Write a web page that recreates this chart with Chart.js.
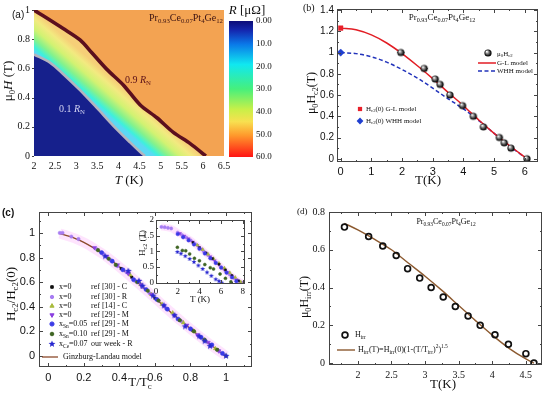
<!DOCTYPE html>
<html>
<head>
<meta charset="utf-8">
<script src="https://cdn.jsdelivr.net/npm/chart.js@4.4.1/dist/chart.umd.min.js"></script>
<style>
html, body { margin: 0; padding: 0; background: #fff; }
#page { position: relative; width: 550px; height: 394px; overflow: hidden; }
canvas { position: absolute; }
</style>
</head>
<body>
<div id="page">
  <canvas id="mapChart" width="240" height="197" style="left:0;top:0"></canvas>
  <canvas id="barChart" width="50" height="170" style="left:226px;top:0"></canvas>
  <canvas id="hc2Chart" width="275" height="197" style="left:275px;top:0"></canvas>
  <canvas id="normChart" width="275" height="197" style="left:0;top:197px"></canvas>
  <canvas id="insetChart" width="130" height="95" style="left:126px;top:212px"></canvas>
  <canvas id="irrChart" width="275" height="197" style="left:275px;top:197px"></canvas>
</div>
<script>
// ---- (a) R(T,H) map: the two contour lines
const mapTempHigh = [2.0, 2.69, 3.09, 3.37, 3.72, 4.12, 4.51, 4.91, 5.30, 5.70, 6.07];
const mapFieldHigh = [1.0, 0.873, 0.795, 0.707, 0.595, 0.485, 0.351, 0.262, 0.162, 0.085, 0.0];
const mapTempLow = [2.0, 2.38, 2.69, 3.09, 3.49, 3.88, 4.27, 4.51, 4.63];
const mapFieldLow = [0.695, 0.64, 0.562, 0.451, 0.329, 0.207, 0.095, 0.029, 0.0];
const mapXTicks = [2, 2.5, 3, 3.5, 4, 4.5, 5, 5.5, 6, 6.5];
const mapYTicks = [0, 0.2, 0.4, 0.6, 0.8, 1];
const barTicks = [0, 10, 20, 30, 40, 50, 60];
const barTickLabels = ['0.00', '10.0', '20.0', '30.0', '40.0', '50.0', '60.0'];

// ---- (b) upper critical field
const hc2Temp = [1.96, 2.72, 3.08, 3.24, 3.56, 3.97, 4.32, 4.65, 5.17, 5.33, 5.55, 6.07];
const hc2Field = [1.0, 0.85, 0.75, 0.70, 0.60, 0.50, 0.40, 0.30, 0.20, 0.15, 0.10, 0.0];
const hc2TempErr = [0.12, 0.12, 0.1, 0.1, 0.1, 0.1, 0.1, 0.1, 0.1, 0.1, 0.1, 0.1];
const modelTemp = [0, 0.5, 1, 1.5, 2, 2.5, 3, 3.5, 4, 4.5, 5, 5.5, 6.07];
const glField = [1.23, 1.215, 1.166, 1.09, 0.99, 0.876, 0.755, 0.625, 0.50, 0.365, 0.24, 0.125, 0];
const whhField = [1.0, 0.99, 0.96, 0.91, 0.84, 0.76, 0.665, 0.565, 0.47, 0.36, 0.24, 0.12, 0];
const zeroTemp = [0];
const glZero = [1.23];
const whhZero = [1.0];
const hc2XTicks = [0, 1, 2, 3, 4, 5, 6];
const hc2YTicks = [0, 0.2, 0.4, 0.6, 0.8, 1, 1.2, 1.4];

// ---- (c) normalised Hc2, main panel
const normGlT = [0.065, 0.1, 0.15, 0.2, 0.25, 0.3, 0.35, 0.4, 0.45, 0.5, 0.55, 0.6, 0.65, 0.7, 0.75, 0.8, 0.85, 0.9, 0.95, 1.0];
const normGlH = [0.995, 0.98, 0.956, 0.923, 0.882, 0.835, 0.782, 0.724, 0.663, 0.6, 0.536, 0.471, 0.406, 0.342, 0.28, 0.22, 0.161, 0.105, 0.051, 0];
const nBlackT = [0.41, 0.47, 0.53, 0.60, 0.67, 0.74, 0.81, 0.88, 0.95];
const nBlackH = [0.71, 0.64, 0.56, 0.47, 0.38, 0.29, 0.21, 0.13, 0.05];
const nLavT = [0.065, 0.08, 0.13, 0.17, 0.27, 0.31, 0.35, 0.39, 0.44, 0.49, 0.53, 0.57, 0.62, 0.66, 0.71, 0.75, 0.80, 0.84, 0.88, 0.92, 0.96, 1.0];
const nLavH = [1.0, 1.0, 0.97, 0.95, 0.87, 0.83, 0.78, 0.73, 0.68, 0.61, 0.56, 0.51, 0.45, 0.39, 0.33, 0.28, 0.22, 0.17, 0.13, 0.08, 0.04, 0.0];
const nOliveT = [0.46, 0.52, 0.58, 0.64, 0.70, 0.76, 0.82, 0.88, 0.94, 1.0];
const nOliveH = [0.66, 0.58, 0.50, 0.42, 0.35, 0.27, 0.20, 0.13, 0.06, 0.0];
const nPurpleT = [0.26, 0.33, 0.39, 0.45, 0.52, 0.58, 0.65, 0.71, 0.78, 0.84, 0.90, 0.96];
const nPurpleH = [0.88, 0.81, 0.74, 0.67, 0.58, 0.50, 0.41, 0.33, 0.25, 0.17, 0.11, 0.04];
const nSn05T = [0.30, 0.36, 0.42, 0.48, 0.55, 0.61, 0.67, 0.73, 0.80, 0.86, 0.92, 0.98];
const nSn05H = [0.84, 0.77, 0.70, 0.62, 0.54, 0.46, 0.38, 0.30, 0.22, 0.15, 0.09, 0.02];
const nSn10T = [0.28, 0.34, 0.38, 0.50, 0.56, 0.62, 0.74, 0.82, 0.88, 0.95];
const nSn10H = [0.86, 0.79, 0.74, 0.60, 0.53, 0.45, 0.29, 0.20, 0.13, 0.05];
const nCeT = [0.32, 0.45, 0.51, 0.53, 0.59, 0.65, 0.71, 0.77, 0.85, 0.88, 0.91, 1.0];
const nCeH = [0.81, 0.69, 0.61, 0.57, 0.49, 0.41, 0.33, 0.24, 0.16, 0.12, 0.08, 0.0];
const normXTicks = [0, 0.2, 0.4, 0.6, 0.8, 1];
const normYTicks = [0, 0.2, 0.4, 0.6, 0.8, 1];

// ---- (c) inset, raw Hc2(T)
const iLavT = [0.5, 0.8, 1.1, 1.4, 2.0, 2.4, 2.8, 3.2, 3.6, 4.0, 4.4, 4.8, 5.2, 5.6, 6.0, 6.4, 6.8, 7.2, 7.6, 7.9];
const iLavH = [1.78, 1.77, 1.75, 1.73, 1.60, 1.52, 1.44, 1.35, 1.24, 1.12, 1.00, 0.88, 0.76, 0.63, 0.50, 0.38, 0.26, 0.15, 0.06, 0.0];
const iPurpleT = [2.2, 2.6, 3.0, 3.4, 3.8, 4.2, 4.6, 5.0, 5.4, 5.8, 6.2, 6.6, 7.0, 7.4, 7.8];
const iPurpleH = [1.57, 1.49, 1.40, 1.30, 1.19, 1.07, 0.95, 0.83, 0.70, 0.58, 0.45, 0.33, 0.21, 0.10, 0.01];
const iBlackT = [3.4, 4.0, 4.6, 5.2, 5.8, 6.4, 7.0, 7.6];
const iBlackH = [1.28, 1.12, 0.95, 0.77, 0.59, 0.41, 0.23, 0.06];
const iOliveT = [3.8, 4.3, 4.8, 5.3, 5.8, 6.3, 6.8, 7.3, 7.8];
const iOliveH = [1.20, 1.06, 0.91, 0.77, 0.62, 0.47, 0.32, 0.17, 0.03];
const iSn05T = [2.0, 2.5, 3.0, 3.5, 4.0, 4.5, 5.0, 5.5, 6.0, 6.5, 7.0, 7.4];
const iSn05H = [1.55, 1.45, 1.35, 1.22, 1.08, 0.93, 0.78, 0.63, 0.48, 0.32, 0.17, 0.05];
const iSn10T = [1.97, 2.43, 2.74, 3.1, 3.54, 4.0, 4.5, 5.0, 5.3, 5.9, 6.4, 6.9];
const iSn10H = [1.13, 1.03, 1.02, 0.92, 0.78, 0.70, 0.58, 0.48, 0.44, 0.28, 0.14, 0.03];
const iCeT = [1.97, 2.3, 2.7, 3.1, 3.5, 3.9, 4.3, 4.7, 5.1, 5.5, 5.8, 6.05];
const iCeH = [0.98, 0.93, 0.85, 0.76, 0.66, 0.55, 0.44, 0.33, 0.22, 0.11, 0.05, 0.0];
const insetXTicks = [0, 2, 4, 6, 8];
const insetYTicks = [0, 0.5, 1, 1.5, 2];

// ---- (d) irreversibility field
const irrTemp = [1.80, 2.16, 2.37, 2.57, 2.74, 2.92, 3.09, 3.27, 3.45, 3.64, 3.82, 4.04, 4.24, 4.50, 4.62];
const irrField = [0.72, 0.67, 0.62, 0.57, 0.50, 0.45, 0.40, 0.35, 0.30, 0.25, 0.20, 0.15, 0.10, 0.05, 0.0];
const irrFitTemp = [1.8, 2.0, 2.25, 2.5, 2.75, 3.0, 3.25, 3.5, 3.75, 4.0, 4.25, 4.5, 4.62];
const irrFitField = [0.74, 0.705, 0.655, 0.60, 0.53, 0.46, 0.385, 0.305, 0.225, 0.148, 0.078, 0.022, 0];
const irrXTicks = [2, 2.5, 3, 3.5, 4, 4.5];
const irrYTicks = [0, 0.2, 0.4, 0.6, 0.8];

const SERIF = '"Liberation Serif", "DejaVu Serif", serif';
const SANS = '"Liberation Sans", Arial, sans-serif';

const pts = (xs, ys) => xs.map((x, i) => ({ x: x, y: ys[i] }));

function axis(min, max, ticks, o) {
    return {
        type: 'linear',
        min: min,
        max: max,
        position: o.position,
        reverse: !!o.reverse,
        grid: { display: false, drawTicks: false },
        border: { display: false },
        ticks: {
            color: '#111',
            font: { family: o.family || SERIF, size: o.size || 10 },
            padding: o.pad == null ? 3 : o.pad,
            autoSkip: false,
            maxRotation: 0,
            callback: o.fmt || (v => String(v))
        },
        afterBuildTicks: s => { s.ticks = ticks.map(v => ({ value: v })); },
        afterFit: s => {
            if (o.w != null) s.width = o.w;
            if (o.h != null) s.height = o.h;
        }
    };
}

// text with _{sub}, ^{sup} and *italic* parts
function drawRich(ctx, str, x, y, o) {
    const size = o.size || 10;
    const fam = o.family || SERIF;
    const parts = [];
    const re = /_\{([^}]*)\}|\^\{([^}]*)\}|\*([^*]*)\*|([^_^*]+)/g;
    let m;
    while ((m = re.exec(str))) {
        if (m[1] !== undefined) parts.push({ t: m[1], mode: 'sub' });
        else if (m[2] !== undefined) parts.push({ t: m[2], mode: 'sup' });
        else if (m[3] !== undefined) parts.push({ t: m[3], italic: true });
        else parts.push({ t: m[4] });
    }
    const fontOf = p => (p.italic ? 'italic ' : '') + (o.bold ? 'bold ' : '') + (p.mode ? size * 0.68 : size) + 'px ' + fam;
    let w = 0;
    parts.forEach(p => { ctx.font = fontOf(p); p.w = ctx.measureText(p.t).width; w += p.w; });
    ctx.save();
    ctx.translate(x, y);
    if (o.rot) ctx.rotate(o.rot);
    let cx = o.align === 'center' ? -w / 2 : o.align === 'right' ? -w : 0;
    ctx.fillStyle = o.color || '#111';
    ctx.textBaseline = 'middle';
    ctx.textAlign = 'left';
    parts.forEach(p => {
        ctx.font = fontOf(p);
        const dy = p.mode === 'sub' ? size * 0.3 : p.mode === 'sup' ? -size * 0.38 : 0;
        ctx.fillText(p.t, cx, dy);
        cx += p.w;
    });
    ctx.restore();
}

function notesPlugin(items, extra) {
    return {
        id: 'notes',
        afterDraw(chart) {
            items.forEach(it => drawRich(chart.ctx, it.s, it.x, it.y, it));
            if (extra) extra(chart.ctx, chart);
        }
    };
}

// box with inward major/minor ticks on every side
function framePlugin(minorX, minorY) {
    return {
        id: 'frame',
        afterDraw(chart) {
            const ctx = chart.ctx;
            const a = chart.chartArea;
            const sx = chart.scales.x, sy = chart.scales.y;
            ctx.save();
            ctx.strokeStyle = '#444';
            ctx.lineWidth = 1;
            ctx.strokeRect(Math.round(a.left) + 0.5, Math.round(a.top) + 0.5, Math.round(a.width) - 1, Math.round(a.height) - 1);
            const marks = (scale, n) => {
                const vals = scale.ticks.map(t => t.value);
                const out = [];
                const step = vals[1] - vals[0];
                for (let v = vals[0] - step; v <= scale.max + 1e-9; v += step / n) {
                    if (v < scale.min - 1e-9) continue;
                    const major = vals.some(t => Math.abs(t - v) < 1e-6);
                    out.push({ p: Math.round(scale.getPixelForValue(v)) + 0.5, len: major ? 4 : 2 });
                }
                return out;
            };
            ctx.beginPath();
            marks(sx, minorX).forEach(k => {
                ctx.moveTo(k.p, a.bottom); ctx.lineTo(k.p, a.bottom - k.len);
                ctx.moveTo(k.p, a.top); ctx.lineTo(k.p, a.top + k.len);
            });
            marks(sy, minorY).forEach(k => {
                ctx.moveTo(a.left, k.p); ctx.lineTo(a.left + k.len, k.p);
                ctx.moveTo(a.right, k.p); ctx.lineTo(a.right - k.len, k.p);
            });
            ctx.stroke();
            ctx.restore();
        }
    };
}

function makeBall(r) {
    const c = document.createElement('canvas');
    const d = Math.ceil(2 * r + 2);
    c.width = c.height = d;
    const g = c.getContext('2d');
    const m = d / 2;
    const grad = g.createRadialGradient(m - r * 0.35, m - r * 0.4, r * 0.1, m, m, r);
    grad.addColorStop(0, '#ffffff');
    grad.addColorStop(0.3, '#9a9a9a');
    grad.addColorStop(0.8, '#151515');
    grad.addColorStop(1, '#000');
    g.fillStyle = grad;
    g.beginPath();
    g.arc(m, m, r, 0, Math.PI * 2);
    g.fill();
    return c;
}

function makeStar(r, color) {
    const c = document.createElement('canvas');
    const d = Math.ceil(2 * r + 2);
    c.width = c.height = d;
    const g = c.getContext('2d');
    const m = d / 2;
    g.fillStyle = color;
    g.beginPath();
    for (let i = 0; i < 10; i++) {
        const rr = i % 2 ? r * 0.45 : r;
        const ang = -Math.PI / 2 + i * Math.PI / 5;
        g.lineTo(m + rr * Math.cos(ang), m + rr * Math.sin(ang));
    }
    g.closePath();
    g.fill();
    return c;
}

const ballImg = makeBall(3.6);
const starImg = makeStar(3.6, '#2828d0');
const starSmall = makeStar(2.6, '#2828d0');

const C_BLACK = '#111111', C_LAV = '#a77cf2', C_OLIVE = '#a9bb3c', C_PURPLE = '#8a3fe0';
const C_SN05 = '#3a3ae6', C_SN10 = '#3f6523';

function lineDs(xs, ys, color, width, extra) {
    return Object.assign({
        data: pts(xs, ys), borderColor: color, borderWidth: width, pointRadius: 0,
        fill: false, showLine: true, tension: 0, cubicInterpolationMode: 'monotone'
    }, extra || {});
}

function pointDs(xs, ys, color, style, radius, extra) {
    return Object.assign({
        data: pts(xs, ys), showLine: false, pointStyle: style, pointRadius: radius,
        backgroundColor: color, borderColor: color, borderWidth: 0.5
    }, extra || {});
}

const baseOptions = {
    responsive: false,
    animation: false,
    events: [],
    plugins: { legend: { display: false }, tooltip: { enabled: false } }
};

function colorbarGradient(ctx, top, bottom) {
    const g = ctx.createLinearGradient(0, top, 0, bottom);
    g.addColorStop(0, '#0c0c78');
    g.addColorStop(0.07, '#1428b0');
    g.addColorStop(0.17, '#0a78e8');
    g.addColorStop(0.32, '#10e8f0');
    g.addColorStop(0.5, '#46f07c');
    g.addColorStop(0.65, '#c8f048');
    g.addColorStop(0.74, '#f8e050');
    g.addColorStop(0.84, '#ff9a2c');
    g.addColorStop(1, '#ff1414');
    return g;
}

// ---------------- (a) map ----------------
const mapBackground = {
    id: 'mapBackground',
    beforeDatasetsDraw(chart) {
        const ctx = chart.ctx, a = chart.chartArea;
        const sx = chart.scales.x, sy = chart.scales.y;
        const nx = 0.658, ny = -0.753;
        const x0 = sx.getPixelForValue(3.26), y0 = sy.getPixelForValue(0.4);
        const d = (sx.getPixelForValue(4.37) - x0) * nx;
        const g = ctx.createLinearGradient(x0, y0, x0 + d * nx, y0 + d * ny);
        g.addColorStop(0, '#5cd8f4');
        g.addColorStop(0.1, '#3ef0dc');
        g.addColorStop(0.3, '#84f28c');
        g.addColorStop(0.55, '#d2f272');
        g.addColorStop(0.8, '#f2ea80');
        g.addColorStop(1, '#f6cf78');
        ctx.save();
        ctx.fillStyle = g;
        ctx.fillRect(a.left, a.top, a.width, a.height);
        ctx.restore();
    }
};

new Chart(document.getElementById('mapChart'), {
    type: 'line',
    data: {
        datasets: [
            lineDs(mapTempHigh, mapFieldHigh, '#5c0f1e', 3.6, { order: 0, tension: 0.3, cubicInterpolationMode: 'default' }),
            lineDs(mapTempLow, mapFieldLow, '#b4b4be', 2.6, { order: 1, tension: 0.3, cubicInterpolationMode: 'default' }),
            lineDs(mapTempHigh.concat([mapXTicks[mapXTicks.length - 1]]), mapFieldHigh.concat([0]), 'rgba(0,0,0,0)', 0,
                { order: 2, fill: 'end', backgroundColor: '#f3a352', tension: 0.3, cubicInterpolationMode: 'default' }),
            lineDs(mapTempLow, mapFieldLow, 'rgba(0,0,0,0)', 0,
                { order: 3, fill: 'origin', backgroundColor: '#16208c', tension: 0.3, cubicInterpolationMode: 'default' })
        ]
    },
    options: Object.assign({}, baseOptions, {
        layout: { padding: { left: 0, top: 6, right: 16, bottom: 0 } },
        scales: {
            x: axis(2, 6.5, mapXTicks, { h: 41, size: 10, pad: 4 }),
            y: axis(0, 1, mapYTicks, { w: 34, size: 10, pad: 4 })
        }
    }),
    plugins: [mapBackground, notesPlugin([
        { s: '(a)', x: 12, y: 15, size: 10, family: SANS },
        { s: 'μ_{0}*H* (T)', x: 9, y: 81, size: 13, rot: -Math.PI / 2, align: 'center' },
        { s: '*T* (K)', x: 129, y: 181, size: 13, align: 'center' },
        { s: 'Pr_{0.93}Ce_{0.07}Pt_{4}Ge_{12}', x: 186, y: 18, size: 10, align: 'center', color: '#3b1212' },
        { s: '0.9 *R*_{N}', x: 125, y: 80, size: 10, color: '#5a1018' },
        { s: '0.1 *R*_{N}', x: 59, y: 109, size: 10, color: '#d4d4f2' }
    ], (ctx, chart) => {
        const a = chart.chartArea, sy = chart.scales.y;
        ctx.save();
        ctx.strokeStyle = '#444';
        ctx.beginPath();
        mapYTicks.forEach(v => {
            const p = Math.round(sy.getPixelForValue(v)) + 0.5;
            ctx.moveTo(a.left - 2, p); ctx.lineTo(a.left, p);
        });
        ctx.stroke();
        ctx.restore();
    })]
});

new Chart(document.getElementById('barChart'), {
    type: 'bar',
    data: {
        labels: ['R'],
        datasets: [{
            data: [[barTicks[0], barTicks[barTicks.length - 1]]],
            barPercentage: 1,
            categoryPercentage: 1,
            borderWidth: 0,
            backgroundColor: c => {
                const a = c.chart.chartArea;
                if (!a) return '#888';
                return colorbarGradient(c.chart.ctx, a.top, a.bottom);
            }
        }]
    },
    options: Object.assign({}, baseOptions, {
        layout: { padding: { left: 3, top: 21, right: 0, bottom: 13 } },
        scales: {
            x: { display: false },
            y: axis(0, 60, barTicks, {
                position: 'right', reverse: true, w: 23, size: 9, pad: 3,
                fmt: (v, i) => barTickLabels[i]
            })
        }
    }),
    plugins: [notesPlugin([
        { s: '*R* [μΩ]', x: 21, y: 11, size: 13, align: 'center' }
    ])]
});

// ---------------- (b) Hc2(T) ----------------
const errorBars = {
    id: 'errorBars',
    beforeDatasetsDraw(chart) {
        const ctx = chart.ctx, sx = chart.scales.x, sy = chart.scales.y;
        ctx.save();
        ctx.strokeStyle = '#333';
        ctx.lineWidth = 0.8;
        ctx.beginPath();
        hc2Temp.forEach((t, i) => {
            const y = sy.getPixelForValue(hc2Field[i]);
            ctx.moveTo(sx.getPixelForValue(t - hc2TempErr[i]), y);
            ctx.lineTo(sx.getPixelForValue(t + hc2TempErr[i]), y);
        });
        ctx.stroke();
        ctx.restore();
    }
};

new Chart(document.getElementById('hc2Chart'), {
    type: 'line',
    data: {
        datasets: [
            pointDs(zeroTemp, glZero, '#e8202a', 'rect', 3.3, { order: 0 }),
            pointDs(zeroTemp, whhZero, '#1f3fd0', 'rectRot', 3.6, { order: 0 }),
            pointDs(hc2Temp, hc2Field, '#000', ballImg, 3.6, { order: 1 }),
            lineDs(modelTemp, glField, '#e21d24', 1.5, { order: 2 }),
            lineDs(modelTemp, whhField, '#2233bb', 1.5, { order: 3, borderDash: [4, 2.5] })
        ]
    },
    options: Object.assign({}, baseOptions, {
        layout: { padding: { left: 0, top: 6, right: 12, bottom: 0 } },
        scales: {
            x: axis(-0.12, 6.43, hc2XTicks, { h: 35, size: 11, family: SANS, pad: 3 }),
            y: axis(-0.03, 1.41, hc2YTicks, { w: 62, size: 10, family: SANS, pad: 3 })
        }
    }),
    plugins: [errorBars, framePlugin(2, 2), notesPlugin([
        { s: '(b)', x: 28, y: 8, size: 10 },
        { s: 'μ_{0}H_{c2}(T)', x: 37, y: 93, size: 12, rot: -Math.PI / 2, align: 'center' },
        { s: 'T(K)', x: 153, y: 181, size: 13, align: 'center' },
        { s: 'Pr_{0.93}Ce_{0.07}Pt_{4}Ge_{12}', x: 167, y: 18, size: 9, align: 'center' },
        { s: 'μ_{0}H_{c2}', x: 222, y: 54, size: 7 },
        { s: 'G-L model', x: 222, y: 63, size: 7 },
        { s: 'WHH model', x: 222, y: 71, size: 7 },
        { s: 'H_{c2}(0) G-L model', x: 91, y: 109, size: 7 },
        { s: 'H_{c2}(0) WHH model', x: 91, y: 121, size: 7 }
    ], (ctx) => {
        ctx.save();
        ctx.drawImage(ballImg, 213 - ballImg.width / 2, 53 - ballImg.height / 2);
        ctx.lineWidth = 1.5;
        ctx.strokeStyle = '#e21d24';
        ctx.beginPath(); ctx.moveTo(203, 63); ctx.lineTo(221, 63); ctx.stroke();
        ctx.strokeStyle = '#2233bb';
        ctx.setLineDash([4, 2.5]);
        ctx.beginPath(); ctx.moveTo(203, 71); ctx.lineTo(221, 71); ctx.stroke();
        ctx.setLineDash([]);
        ctx.fillStyle = '#e8202a';
        Chart.helpers.drawPoint(ctx, { pointStyle: 'rect', radius: 3, borderWidth: 0 }, 85, 109);
        ctx.fillStyle = '#1f3fd0';
        Chart.helpers.drawPoint(ctx, { pointStyle: 'rectRot', radius: 3.4, borderWidth: 0 }, 85, 121);
        ctx.restore();
    })]
});

// ---------------- (c) normalised Hc2 ----------------
new Chart(document.getElementById('normChart'), {
    type: 'line',
    data: {
        datasets: [
            pointDs(nCeT, nCeH, '#2828d0', starImg, 3.6, { order: 0 }),
            pointDs(nSn10T, nSn10H, C_SN10, 'circle', 1.8, { order: 1 }),
            pointDs(nSn05T, nSn05H, C_SN05, 'circle', 2.1, { order: 2 }),
            pointDs(nPurpleT, nPurpleH, C_PURPLE, 'triangle', 2.4, { order: 3, rotation: 180 }),
            pointDs(nOliveT, nOliveH, C_OLIVE, 'triangle', 2.4, { order: 4 }),
            pointDs(nLavT, nLavH, C_LAV, 'circle', 1.7, { order: 5 }),
            pointDs(nBlackT, nBlackH, C_BLACK, 'rect', 1.7, { order: 6 }),
            lineDs(normGlT, normGlH, '#8b4a2a', 1.3, { order: 7 }),
            lineDs(normGlT, normGlH, 'rgba(252,196,250,0.45)', 10, { order: 8 })
        ]
    },
    options: Object.assign({}, baseOptions, {
        layout: { padding: { left: 0, top: 15, right: 23, bottom: 0 } },
        scales: {
            x: axis(-0.052, 1.146, normXTicks, { h: 27, size: 11, family: SANS, pad: 4 }),
            y: axis(-0.09, 1.17, normYTicks, { w: 39, size: 11, family: SANS, pad: 4 })
        }
    }),
    plugins: [framePlugin(2, 2), notesPlugin([
        { s: '(c)', x: 2, y: 16, size: 10, bold: true, family: SANS },
        { s: 'H_{c2}/H_{c2}(0)', x: 12, y: 97, size: 13, rot: -Math.PI / 2, align: 'center' },
        { s: 'T/T_{c}', x: 140, y: 186, size: 13, align: 'center' },
        { s: 'x=0', x: 59, y: 90, size: 8 }, { s: 'ref [30] - C', x: 91, y: 90, size: 8 },
        { s: 'x=0', x: 59, y: 100, size: 8 }, { s: 'ref [30] - R', x: 91, y: 100, size: 8 },
        { s: 'x=0', x: 59, y: 109, size: 8 }, { s: 'ref [14] - C', x: 91, y: 109, size: 8 },
        { s: 'x=0', x: 59, y: 118, size: 8 }, { s: 'ref [29] - M', x: 91, y: 118, size: 8 },
        { s: 'x_{Sn}=0.05', x: 59, y: 127, size: 8 }, { s: 'ref [29] - M', x: 91, y: 127, size: 8 },
        { s: 'x_{Sn}=0.10', x: 59, y: 137, size: 8 }, { s: 'ref [29] - M', x: 91, y: 137, size: 8 },
        { s: 'x_{Ce}=0.07', x: 59, y: 147, size: 8 }, { s: 'our week - R', x: 91, y: 147, size: 8 },
        { s: 'Ginzburg-Landau model', x: 63, y: 160, size: 8 }
    ], (ctx) => {
        const mk = (color, style, r, y, rot) => {
            ctx.fillStyle = color; ctx.strokeStyle = color;
            Chart.helpers.drawPoint(ctx, { pointStyle: style, radius: r, rotation: rot || 0, borderWidth: 0.5 }, 52, y);
        };
        ctx.save();
        mk(C_BLACK, 'rect', 1.8, 90);
        mk(C_LAV, 'circle', 1.7, 100);
        mk(C_OLIVE, 'triangle', 2.4, 109);
        mk(C_PURPLE, 'triangle', 2.4, 118, 180);
        mk(C_SN05, 'circle', 2.1, 127);
        mk(C_SN10, 'circle', 1.8, 137);
        ctx.drawImage(starImg, 52 - starImg.width / 2, 147 - starImg.height / 2);
        ctx.strokeStyle = '#8b4a2a'; ctx.lineWidth = 1.3;
        ctx.beginPath(); ctx.moveTo(42, 160); ctx.lineTo(58, 160); ctx.stroke();
        ctx.restore();
    })]
});

const insetWhite = {
    id: 'insetWhite',
    beforeDraw(chart) {
        const a = chart.chartArea;
        chart.ctx.save();
        chart.ctx.fillStyle = '#fff';
        chart.ctx.fillRect(a.left, a.top, a.width, a.height);
        chart.ctx.restore();
    }
};

new Chart(document.getElementById('insetChart'), {
    type: 'line',
    data: {
        datasets: [
            pointDs(iCeT, iCeH, '#2828d0', starSmall, 2.6, { order: 0 }),
            pointDs(iSn10T, iSn10H, C_SN10, 'circle', 1.5, { order: 1 }),
            pointDs(iSn05T, iSn05H, C_SN05, 'circle', 1.7, { order: 2 }),
            pointDs(iBlackT, iBlackH, C_BLACK, 'rect', 1.4, { order: 3 }),
            pointDs(iOliveT, iOliveH, C_OLIVE, 'triangle', 1.9, { order: 4 }),
            pointDs(iPurpleT, iPurpleH, C_PURPLE, 'triangle', 1.9, { order: 5, rotation: 180 }),
            pointDs(iLavT, iLavH, C_LAV, 'circle', 1.6, { order: 6 }),
            lineDs(iLavT, iLavH, 'rgba(252,196,250,0.45)', 7, { order: 7 })
        ]
    },
    options: Object.assign({}, baseOptions, {
        layout: { padding: { left: 0, top: 8, right: 11, bottom: 0 } },
        scales: {
            x: axis(0, 8.2, insetXTicks, { h: 23, size: 9, pad: 2 }),
            y: axis(-0.04, 2.0, insetYTicks, { w: 30, size: 9, pad: 2 })
        }
    }),
    plugins: [insetWhite, framePlugin(2, 2), notesPlugin([
        { s: 'H_{c2} (T)', x: 17, y: 31, size: 9, rot: -Math.PI / 2, align: 'center' },
        { s: 'T (K)', x: 74, y: 88, size: 9, align: 'center' }
    ])]
});

// ---------------- (d) Hirr(T) ----------------
new Chart(document.getElementById('irrChart'), {
    type: 'line',
    data: {
        datasets: [
            pointDs(irrTemp, irrField, 'rgba(255,255,255,0)', 'circle', 2.9, { order: 0, borderColor: '#111', borderWidth: 1.7 }),
            lineDs(irrFitTemp, irrFitField, '#8c5a30', 1.4, { order: 1 })
        ]
    },
    options: Object.assign({}, baseOptions, {
        layout: { padding: { left: 0, top: 15, right: 8, bottom: 0 } },
        scales: {
            x: axis(1.57, 4.74, irrXTicks, { h: 29, size: 10, pad: 4 }),
            y: axis(-0.01, 0.8, irrYTicks, { w: 54, size: 10, pad: 4 })
        }
    }),
    plugins: [framePlugin(2, 2), notesPlugin([
        { s: '(d)', x: 22, y: 15, size: 9 },
        { s: 'μ_{0}H_{irr}(T)', x: 30, y: 100, size: 12, rot: -Math.PI / 2, align: 'center' },
        { s: 'T(K)', x: 168, y: 188, size: 13, align: 'center' },
        { s: 'Pr_{0.93}Ce_{0.07}Pt_{4}Ge_{12}', x: 171, y: 25, size: 8, align: 'center' },
        { s: 'H_{irr}', x: 80, y: 138, size: 8 },
        { s: 'H_{irr}(T)=H_{irr}(0)(1-(T/T_{irr})^{2})^{1.5}', x: 83, y: 153, size: 8 }
    ], (ctx) => {
        ctx.save();
        ctx.strokeStyle = '#111'; ctx.lineWidth = 1.7;
        ctx.beginPath(); ctx.arc(70, 138, 2.9, 0, Math.PI * 2); ctx.stroke();
        ctx.strokeStyle = '#8c5a30'; ctx.lineWidth = 1.4;
        ctx.beginPath(); ctx.moveTo(62, 153); ctx.lineTo(80, 153); ctx.stroke();
        ctx.restore();
    })]
});
</script>
</body>
</html>
